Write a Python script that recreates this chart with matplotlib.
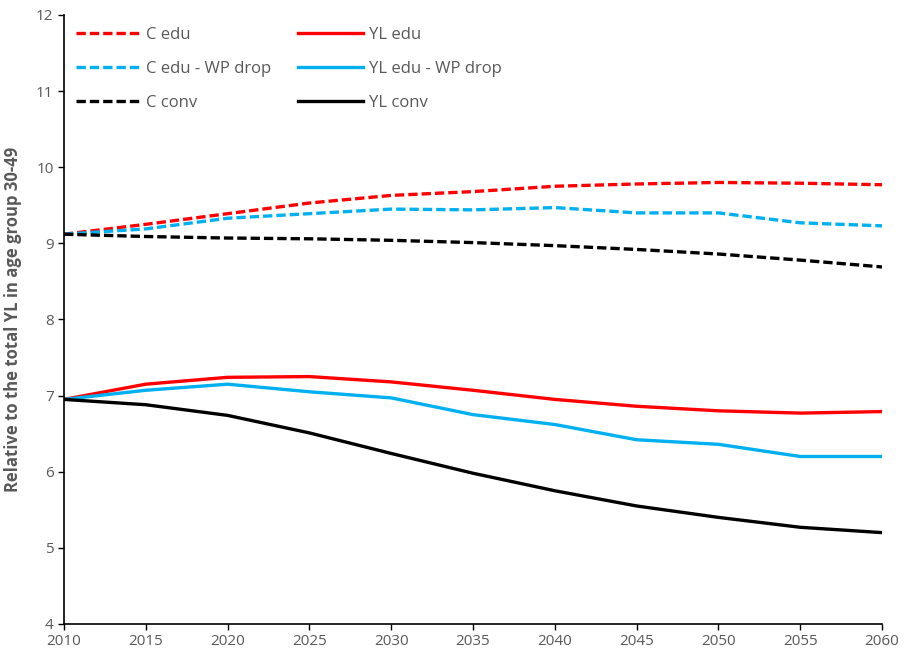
import matplotlib
matplotlib.use('Agg')
import matplotlib.pyplot as plt

plt.rcParams['font.family'] = ['Open Sans', 'DejaVu Sans']

years = [2010, 2015, 2020, 2025, 2030, 2035, 2040, 2045, 2050, 2055, 2060]

c_edu = [9.12, 9.25, 9.39, 9.53, 9.63, 9.68, 9.75, 9.78, 9.80, 9.79, 9.77]
c_edu_wp = [9.12, 9.19, 9.33, 9.39, 9.45, 9.44, 9.47, 9.40, 9.40, 9.27, 9.23]
c_conv = [9.12, 9.09, 9.07, 9.06, 9.04, 9.01, 8.97, 8.92, 8.86, 8.78, 8.69]

yl_edu = [6.95, 7.15, 7.24, 7.25, 7.18, 7.07, 6.95, 6.86, 6.80, 6.77, 6.79]
yl_edu_wp = [6.95, 7.07, 7.15, 7.05, 6.97, 6.75, 6.62, 6.42, 6.36, 6.20, 6.20]
yl_conv = [6.95, 6.88, 6.74, 6.51, 6.24, 5.98, 5.75, 5.55, 5.40, 5.27, 5.20]

red = '#FF0000'
blue = '#00B0F0'
black = '#000000'
grey = '#595959'
dash = (0, (2.8, 1.2))

fig = plt.figure(figsize=(9.06, 6.52), dpi=100)
ax = fig.add_axes([0.0706, 0.043, 0.903, 0.934])

lw = 2.4
ax.plot(years, c_edu, color=red, lw=lw, linestyle=dash, label='C edu')
ax.plot(years, c_edu_wp, color=blue, lw=lw, linestyle=dash, label='C edu - WP drop')
ax.plot(years, c_conv, color=black, lw=lw, linestyle=dash, label='C conv')
ax.plot(years, yl_edu, color=red, lw=lw, label='YL edu')
ax.plot(years, yl_edu_wp, color=blue, lw=lw, label='YL edu - WP drop')
ax.plot(years, yl_conv, color=black, lw=lw, label='YL conv')

ax.set_xlim(2010, 2060)
ax.set_ylim(4, 12)
ax.set_xticks(years)
ax.set_yticks(range(4, 13))
ax.tick_params(direction='out', length=4, width=1, color=black,
               labelcolor=grey, labelsize=11)
ax.tick_params(axis='x', pad=3)
for s in ['top', 'right']:
    ax.spines[s].set_visible(False)
for s in ['left', 'bottom']:
    ax.spines[s].set_color(black)
    ax.spines[s].set_linewidth(1.2)

ax.set_ylabel('Relative to the total YL in age group 30-49', fontsize=12,
              fontweight='bold', color=grey, labelpad=10)

leg = ax.legend(ncol=2, loc='upper left', frameon=False, fontsize=12,
                handlelength=3.9, columnspacing=1.6, labelspacing=1.1,
                handletextpad=0.35, borderaxespad=0.3,
                bbox_to_anchor=(0.0, 1.0))
for t in leg.get_texts():
    t.set_color(grey)

fig.savefig('out.png', dpi=100)
